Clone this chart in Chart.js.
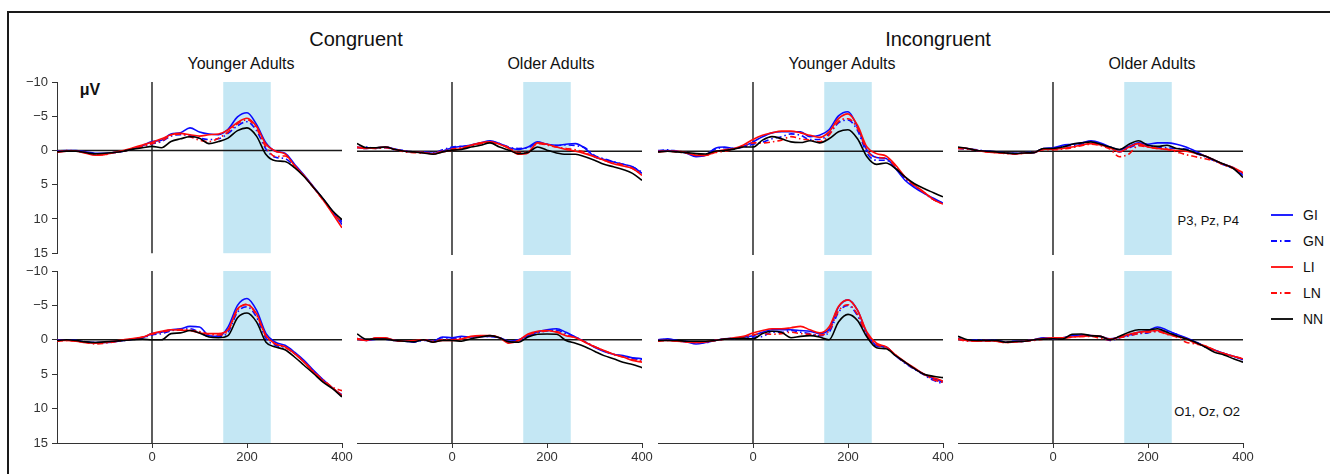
<!DOCTYPE html>
<html>
<head>
<meta charset="utf-8">
<script src="https://cdn.jsdelivr.net/npm/chart.js@4.4.1/dist/chart.umd.min.js"></script>
<style>
  html, body { margin: 0; padding: 0; background: #fff; width: 1330px; height: 474px; overflow: hidden;
               font-family: 'Liberation Sans', Arial, sans-serif; }
  #frame { position: absolute; left: 7px; top: 11px; width: 1340px; height: 520px;
           border: 2px solid #1a1a1a; box-sizing: border-box; }
  .lbl { position: absolute; transform: translate(-50%, -50%); line-height: 1; white-space: nowrap; color: #111; }
  .title { font-size: 20px; }
  .sub { font-size: 16px; }
  .bold { font-size: 16px; font-weight: bold; }
  .site { position: absolute; font-size: 13px; line-height: 1; transform: translate(-100%, -50%); color: #111; white-space: nowrap; }
  canvas { position: absolute; }
  .leg { position: absolute; display: flex; align-items: center; transform: translateY(-50%); font-size: 14px; color: #111; }
  .leg svg { margin-right: 10px; }
</style>
</head>
<body>
<div id="frame"></div>

<div class="lbl title" style="left:356px; top:39px;">Congruent</div>
<div class="lbl title" style="left:938px; top:39px;">Incongruent</div>
<div class="lbl sub" style="left:241px; top:64px;">Younger Adults</div>
<div class="lbl sub" style="left:551px; top:64px;">Older Adults</div>
<div class="lbl sub" style="left:842px; top:64px;">Younger Adults</div>
<div class="lbl sub" style="left:1152px; top:64px;">Older Adults</div>
<div class="lbl bold" style="left:90px; top:90px;">μV</div>
<div class="lbl bold" style="left:246px; top:90px;">N1</div>
<div class="site" style="left:1239px; top:220px;">P3, Pz, P4</div>
<div class="site" style="left:1240px; top:411px;">O1, Oz, O2</div>

<div id="legend"></div>

<script>
// --- DATOS ---
const TIMES = [-200, -180, -160, -140, -120, -100, -80, -60, -40, -20, 0, 20, 40, 60, 80, 100,
               120, 140, 160, 180, 200, 220, 240, 260, 280, 300, 320, 340, 360, 380, 400];
const SERIES = ['GI', 'GN', 'LI', 'LN', 'NN'];
const X_TICKS = [0, 200, 400];
const Y_TICKS = [-10, -5, 0, 5, 10, 15];
const N1_WINDOW = [150, 250];

// Congruent, younger, P3/Pz/P4
const congYoungPar = {
  GI: [0.1, 0.0, 0.0, 0.2, 0.4, 0.4, 0.3, 0.1, -0.3, -0.7, -1.3, -1.5, -2.4, -2.6, -3.3, -2.7, -2.4, -2.3, -3.1, -4.9, -5.5, -3.8, -1.1, 0.1, 0.4, 2.0, 3.6, 5.3, 7.1, 8.9, 10.8],
  GN: [0.2, 0.1, 0.1, 0.3, 0.5, 0.5, 0.3, 0.1, -0.2, -0.5, -1.0, -1.3, -2.1, -2.3, -2.2, -1.8, -1.6, -1.7, -2.5, -3.6, -4.2, -2.9, -0.2, 1.0, 1.2, 2.3, 3.7, 5.4, 7.1, 8.9, 10.4],
  LI: [0.3, 0.1, 0.1, 0.4, 0.7, 0.6, 0.3, 0.0, -0.4, -0.8, -1.2, -1.7, -2.3, -2.5, -2.3, -2.1, -2.3, -2.4, -3.0, -4.1, -4.7, -3.5, -0.9, 0.1, 0.5, 2.2, 3.7, 5.4, 7.2, 9.2, 11.3],
  LN: [0.2, 0.0, 0.1, 0.3, 0.6, 0.6, 0.3, 0.1, -0.3, -0.6, -1.0, -1.4, -2.2, -2.4, -2.0, -1.5, -1.3, -1.8, -2.7, -3.9, -4.5, -3.2, -0.5, 0.9, 0.8, 2.2, 3.7, 5.4, 7.2, 9.0, 10.5],
  NN: [0.2, 0.1, 0.1, 0.3, 0.5, 0.4, 0.3, 0.1, -0.2, -0.4, -0.6, -0.4, -1.3, -1.7, -2.0, -1.8, -1.0, -1.3, -1.8, -2.9, -3.3, -2.1, 0.6, 1.5, 1.6, 2.5, 3.8, 5.4, 7.0, 8.8, 10.1]
};
// Congruent, older, P3/Pz/P4
const congOldPar = {
  GI: [-0.6, -0.4, -0.5, -0.6, -0.3, 0.0, 0.1, 0.2, 0.3, 0.0, -0.5, -0.7, -0.9, -1.2, -1.5, -1.1, -0.5, -0.25, -0.6, -1.35, -1.0, -0.85, -1.0, -1.1, -0.4, 0.8, 1.2, 1.55, 1.9, 2.25, 3.2],
  GN: [-0.5, -0.6, -0.4, -0.5, -0.2, -0.1, 0.1, 0.1, 0.2, -0.2, -0.6, -0.7, -0.8, -1.1, -1.4, -1.1, -0.6, -0.4, -0.5, -1.2, -1.0, -0.8, -0.9, -0.8, -0.5, 0.6, 1.1, 1.5, 1.9, 2.3, 3.0],
  LI: [-0.6, -0.4, -0.5, -0.6, -0.25, 0.0, 0.1, 0.2, 0.4, 0.1, -0.15, -0.4, -0.85, -1.2, -1.35, -1.0, -0.4, 0.45, 0.25, -1.2, -1.0, -0.6, -0.25, 0.0, 0.35, 0.8, 1.3, 1.8, 2.15, 2.5, 3.5],
  LN: [-0.5, -0.5, -0.4, -0.5, -0.3, 0.1, 0.2, 0.3, 0.3, 0.0, -0.3, -0.5, -0.8, -1.1, -1.3, -1.0, -0.5, 0.2, 0.1, -1.1, -0.9, -0.6, -0.4, -0.2, 0.2, 0.8, 1.3, 1.7, 2.0, 2.5, 3.3],
  NN: [-1.1, -0.5, -0.5, -0.6, -0.25, 0.0, 0.1, 0.25, 0.45, 0.1, -0.15, -0.25, -0.6, -0.85, -1.2, -0.6, -0.15, 0.35, 0.2, -0.6, -0.15, 0.25, 0.45, 0.45, 0.8, 1.3, 1.9, 2.25, 2.65, 3.2, 4.2]
};
// Incongruent, younger, P3/Pz/P4
const incYoungPar = {
  GI: [-0.1, -0.1, 0.0, 0.3, 0.8, 0.6, -0.4, -0.6, -0.4, -0.7, -1.35, -2.1, -2.65, -2.8, -2.8, -2.8, -2.1, -2.3, -3.1, -5.1, -5.7, -3.5, -0.15, 0.9, 1.05, 2.5, 4.2, 5.25, 6.1, 6.8, 7.5],
  GN: [0.0, -0.2, 0.0, 0.2, 0.6, 0.5, -0.3, -0.5, -0.4, -0.6, -1.0, -1.3, -1.8, -2.1, -2.5, -2.3, -1.7, -1.7, -2.5, -4.1, -4.5, -3.0, 0.3, 1.3, 1.3, 2.4, 4.0, 5.1, 6.0, 7.0, 7.5],
  LI: [0.1, 0.0, 0.0, 0.2, 0.6, 0.6, 0.1, -0.2, -0.4, -0.9, -1.7, -2.3, -2.65, -2.9, -2.9, -2.65, -2.3, -2.0, -2.8, -4.7, -5.4, -3.75, -0.6, 0.35, 0.7, 2.0, 3.7, 4.9, 5.9, 7.0, 7.65],
  LN: [0.0, 0.0, 0.1, 0.3, 0.5, 0.6, 0.2, 0.0, -0.3, -0.7, -1.2, -1.2, -1.35, -1.6, -2.1, -1.8, -1.6, -1.35, -2.3, -4.3, -4.7, -3.3, -0.1, 0.9, 1.0, 2.2, 3.8, 5.0, 6.0, 7.0, 7.6],
  NN: [0.1, 0.0, 0.1, 0.2, 0.35, 0.4, 0.0, -0.1, -0.3, -0.6, -0.6, -1.6, -2.1, -1.8, -1.35, -1.25, -1.5, -1.2, -1.8, -2.8, -3.1, -1.8, 0.8, 1.9, 1.7, 2.5, 3.7, 4.7, 5.4, 6.0, 6.6]
};
// Incongruent, older, P3/Pz/P4
const incOldPar = {
  GI: [-0.5, -0.4, -0.1, 0.0, 0.1, 0.25, 0.35, 0.25, 0.2, -0.4, -0.5, -0.85, -1.0, -1.2, -1.5, -1.2, -0.6, -0.2, -0.7, -1.2, -1.0, -1.2, -1.2, -1.0, -0.6, 0.0, 0.7, 1.3, 1.9, 2.4, 3.5],
  GN: [-0.4, -0.3, -0.2, 0.0, 0.1, 0.3, 0.3, 0.2, 0.1, -0.3, -0.4, -0.7, -0.8, -1.0, -1.3, -1.0, -0.5, 0.1, -0.5, -0.9, -0.8, -0.6, -0.5, -0.4, -0.3, 0.3, 0.8, 1.4, 2.0, 2.5, 3.3],
  LI: [-0.5, -0.4, -0.1, 0.1, 0.2, 0.3, 0.4, 0.3, 0.2, -0.3, -0.3, -0.4, -0.6, -0.9, -1.1, -0.9, -0.5, 0.1, -0.6, -1.1, -0.6, -0.4, -0.25, -0.1, 0.0, 0.3, 0.7, 1.3, 1.9, 2.4, 3.1],
  LN: [-0.4, -0.3, -0.1, 0.1, 0.2, 0.35, 0.4, 0.3, 0.2, -0.2, -0.2, -0.3, -0.5, -0.8, -1.0, -0.8, -0.3, 0.8, 0.4, -0.8, -0.6, -0.4, -0.3, 0.1, 0.5, 0.8, 1.1, 1.4, 2.0, 2.5, 3.2],
  NN: [-0.6, -0.4, -0.1, 0.0, 0.1, 0.25, 0.35, 0.25, 0.2, -0.4, -0.4, -0.6, -1.0, -1.2, -1.35, -1.0, -0.6, -0.25, -1.0, -1.5, -0.85, -0.7, -0.85, -0.4, -0.2, 0.25, 0.7, 1.3, 1.9, 2.5, 3.8]
};
// Congruent, younger, O1/Oz/O2
const congYoungOcc = {
  GI: [0.0, 0.0, 0.1, 0.3, 0.4, 0.4, 0.3, 0.1, -0.1, -0.3, -0.9, -1.1, -1.45, -1.6, -1.95, -1.85, -0.6, -0.5, -1.85, -5.0, -6.0, -4.3, -0.9, 0.35, 0.8, 1.8, 3.0, 4.45, 5.8, 7.0, 8.2],
  GN: [0.1, 0.0, 0.1, 0.3, 0.4, 0.4, 0.2, 0.1, -0.1, -0.3, -0.7, -0.9, -1.3, -1.5, -1.6, -1.1, -0.5, -0.5, -1.1, -4.0, -4.8, -3.3, -0.2, 0.8, 1.1, 2.0, 3.2, 4.6, 5.9, 7.0, 8.0],
  LI: [0.1, 0.1, 0.2, 0.4, 0.5, 0.4, 0.2, 0.0, -0.2, -0.4, -0.9, -1.25, -1.45, -1.4, -1.35, -1.0, -0.9, -0.9, -1.45, -4.5, -5.1, -3.8, -0.6, 0.6, 1.0, 2.0, 3.25, 4.7, 6.0, 7.0, 8.1],
  LN: [0.2, 0.1, 0.2, 0.4, 0.6, 0.5, 0.3, 0.1, -0.1, -0.4, -0.8, -1.1, -1.4, -1.5, -1.4, -1.2, -0.8, -0.7, -1.3, -4.3, -5.2, -3.6, -0.5, 0.6, 1.1, 2.0, 3.2, 4.6, 5.8, 6.9, 7.4],
  NN: [0.1, 0.0, 0.1, 0.3, 0.4, 0.3, 0.2, 0.1, 0.0, -0.1, 0.0, 0.0, -0.9, -1.0, -1.35, -1.0, -0.4, -0.3, -0.6, -3.2, -3.9, -2.6, 0.35, 1.05, 1.45, 2.5, 3.7, 4.9, 6.15, 7.1, 8.3]
};
// Congruent, older, O1/Oz/O2
const congOldOcc = {
  GI: [-0.1, 0.1, -0.1, -0.2, 0.1, 0.2, 0.3, 0.0, 0.2, -0.4, -0.3, -0.5, -0.4, -0.5, -0.5, -0.3, 0.2, 0.0, -0.6, -1.15, -1.45, -1.6, -1.1, -0.4, 0.3, 1.1, 1.7, 2.1, 2.3, 2.6, 2.75],
  GN: [-0.2, 0.0, -0.2, -0.1, 0.1, 0.2, 0.3, 0.1, 0.1, -0.3, -0.2, -0.3, -0.4, -0.5, -0.5, -0.3, 0.2, 0.1, -0.5, -1.0, -1.3, -1.4, -0.9, -0.4, 0.3, 1.0, 1.6, 2.1, 2.4, 2.7, 2.9],
  LI: [-0.1, 0.1, -0.3, -0.3, 0.1, 0.2, 0.1, 0.0, 0.3, 0.1, 0.1, -0.1, -0.5, -0.6, -0.6, -0.3, 0.5, 0.1, -0.85, -1.25, -1.35, -1.1, -0.6, -0.3, 0.35, 1.0, 1.55, 2.1, 2.5, 3.0, 3.25],
  LN: [-0.2, 0.1, -0.2, -0.2, 0.1, 0.2, 0.2, 0.0, 0.2, 0.0, 0.0, -0.2, -0.4, -0.5, -0.6, -0.3, 0.3, 0.1, -0.7, -1.1, -1.3, -1.2, -0.7, -0.3, 0.3, 1.0, 1.6, 2.1, 2.5, 2.9, 3.1],
  NN: [-0.85, -0.1, -0.1, -0.1, 0.1, 0.2, 0.3, 0.0, 0.35, 0.1, 0.1, 0.2, -0.15, -0.4, -0.6, -0.3, 0.3, 0.35, -0.4, -0.8, -0.85, -0.8, 0.1, 0.5, 1.0, 1.65, 2.3, 2.75, 3.25, 3.6, 4.05]
};
// Incongruent, younger, O1/Oz/O2
const incYoungOcc = {
  GI: [0.0, -0.15, 0.1, 0.3, 0.6, 0.4, 0.1, -0.15, -0.2, -0.4, -0.6, -1.1, -1.45, -1.45, -1.45, -1.35, -1.25, -0.9, -1.5, -4.75, -5.8, -4.3, -0.9, 0.8, 1.05, 2.3, 3.3, 4.2, 5.0, 5.65, 6.15],
  GN: [0.1, -0.1, 0.1, 0.2, 0.4, 0.4, 0.1, -0.1, -0.2, -0.3, -0.4, -0.5, -1.1, -1.1, -1.35, -1.1, -0.9, -0.6, -1.1, -4.0, -5.0, -3.5, -0.6, 0.9, 1.1, 2.3, 3.4, 4.3, 5.1, 5.9, 6.4],
  LI: [0.1, 0.1, 0.2, 0.3, 0.4, 0.3, 0.1, -0.1, -0.3, -0.5, -1.0, -1.35, -1.6, -1.6, -1.75, -1.95, -1.45, -1.0, -1.85, -4.85, -5.8, -4.3, -1.1, 0.5, 1.0, 2.2, 3.2, 4.1, 5.0, 5.5, 6.0],
  LN: [0.2, 0.1, 0.2, 0.3, 0.4, 0.3, 0.1, -0.1, -0.2, -0.4, -0.7, -0.9, -0.8, -0.9, -1.1, -0.9, -0.8, -0.7, -1.3, -4.2, -5.1, -3.7, -0.7, 0.7, 1.1, 2.2, 3.3, 4.2, 5.0, 5.8, 6.2],
  NN: [0.1, 0.1, 0.1, 0.2, 0.2, 0.2, 0.1, -0.1, -0.15, -0.2, -0.15, -0.9, -1.25, -1.1, -0.3, -0.5, -0.6, -0.4, 0.0, -2.6, -3.7, -2.8, -0.4, 1.15, 1.3, 2.3, 3.25, 4.2, 5.0, 5.3, 5.5]
};
// Incongruent, older, O1/Oz/O2
const incOldOcc = {
  GI: [-0.2, 0.1, 0.1, 0.1, 0.1, 0.35, 0.25, 0.2, 0.0, -0.3, -0.2, -0.3, -0.6, -0.7, -0.6, -0.5, -0.15, -0.4, -0.7, -1.1, -1.35, -1.85, -1.4, -0.8, -0.3, 0.3, 1.0, 1.5, 2.0, 2.4, 2.9],
  GN: [-0.1, 0.1, 0.0, 0.1, 0.1, 0.3, 0.2, 0.2, 0.0, -0.2, -0.1, -0.3, -0.5, -0.6, -0.6, -0.4, 0.1, -0.3, -0.6, -0.9, -1.0, -1.3, -1.2, -0.8, -0.2, 0.3, 1.0, 1.5, 2.0, 2.4, 2.8],
  LI: [-0.1, 0.1, 0.2, 0.1, 0.2, 0.4, 0.3, 0.2, 0.0, -0.2, -0.3, -0.3, -0.4, -0.5, -0.6, -0.5, -0.1, -0.4, -0.8, -1.1, -1.25, -1.35, -0.85, -0.5, -0.15, 0.5, 0.85, 1.5, 2.0, 2.4, 2.75],
  LN: [-0.1, 0.2, 0.2, 0.2, 0.2, 0.4, 0.3, 0.2, 0.1, -0.1, -0.2, -0.2, -0.4, -0.5, -0.5, -0.2, 0.0, -0.3, -0.6, -0.9, -1.1, -1.2, -0.8, -0.4, 0.35, 0.6, 0.9, 1.5, 2.0, 2.4, 2.7],
  NN: [-0.5, 0.0, 0.1, 0.1, 0.1, 0.35, 0.25, 0.2, 0.0, -0.1, -0.15, -0.1, -0.8, -0.85, -0.6, -0.5, 0.0, -0.5, -1.1, -1.45, -1.45, -1.6, -1.1, -0.6, -0.15, 0.35, 1.05, 1.8, 2.2, 2.75, 3.25]
};

// --- ESTILOS ---
const COLORS = ['#0a0aff', '#0a0aff', '#ff0a0a', '#ff0a0a', '#000000'];
const DASHES = [[], [6, 3, 1.5, 3], [], [6, 3, 1.5, 3], []];
const SHADE = '#c4e7f4';
const FONT = { family: "'Liberation Sans', Arial, sans-serif", size: 13 };

// posición de cada panel (área de trazado)
const COL_LEFT = [57, 357, 658, 958];
const ROW_TOP = [82, 271];
const ROW_H = [173, 172];
const AREA_W = 285;

const PANELS = [
  { data: congYoungPar, col: 0, row: 0 },
  { data: congOldPar,   col: 1, row: 0 },
  { data: incYoungPar,  col: 2, row: 0 },
  { data: incOldPar,    col: 3, row: 0 },
  { data: congYoungOcc, col: 0, row: 1 },
  { data: congOldOcc,   col: 1, row: 1 },
  { data: incYoungOcc,  col: 2, row: 1 },
  { data: incOldOcc,    col: 3, row: 1 }
];

// sombreado N1 debajo de los ejes, líneas de cero encima
const decor = {
  id: 'decor',
  beforeDraw(chart) {
    const { ctx, chartArea: a, scales: { x } } = chart;
    const x0 = x.getPixelForValue(N1_WINDOW[0]);
    const x1 = x.getPixelForValue(N1_WINDOW[1]);
    ctx.save();
    ctx.fillStyle = SHADE;
    ctx.fillRect(x0, a.top, x1 - x0, a.bottom - a.top);
    ctx.restore();
  },
  beforeDatasetsDraw(chart) {
    const { ctx, chartArea: a, scales: { x, y } } = chart;
    const yz = y.getPixelForValue(0);
    const xz = x.getPixelForValue(0);
    ctx.save();
    ctx.strokeStyle = '#1a1a1a';
    ctx.lineWidth = 1.4;
    ctx.beginPath();
    ctx.moveTo(a.left, yz); ctx.lineTo(a.right, yz);
    ctx.moveTo(xz, a.top); ctx.lineTo(xz, a.bottom);
    ctx.stroke();
    ctx.restore();
  }
};

function crearPanel(p) {
  const showY = p.col === 0;
  const showX = p.row === 1;
  const padL = showY ? 0 : 4;
  const canvasLeft = showY ? 0 : COL_LEFT[p.col] - padL;
  const yW = COL_LEFT[0];
  const padB = showX ? 2 : 10;
  const xH = 26;
  const w = (COL_LEFT[p.col] - canvasLeft) + AREA_W + 16;
  const h = 12 + ROW_H[p.row] + (showX ? xH : 0) + padB;

  const canvas = document.createElement('canvas');
  canvas.width = w; canvas.height = h;
  canvas.style.left = canvasLeft + 'px';
  canvas.style.top = (ROW_TOP[p.row] - 12) + 'px';
  canvas.style.width = w + 'px'; canvas.style.height = h + 'px';
  document.body.appendChild(canvas);

  new Chart(canvas, {
    type: 'line',
    data: {
      datasets: SERIES.map((name, i) => ({
        label: name,
        data: TIMES.map((t, k) => ({ x: t, y: p.data[name][k] })),
        borderColor: COLORS[i],
        borderDash: DASHES[i],
        borderWidth: 1.6,
        pointRadius: 0,
        fill: false,
        cubicInterpolationMode: 'monotone',
        order: SERIES.length - i
      }))
    },
    options: {
      responsive: false,
      animation: false,
      events: [],
      layout: { padding: { left: padL, right: 16, top: 12, bottom: padB } },
      plugins: { legend: { display: false }, tooltip: { enabled: false } },
      scales: {
        x: {
          type: 'linear', min: -200, max: 400, display: showX,
          afterBuildTicks: s => { s.ticks = X_TICKS.map(v => ({ value: v })); },
          afterFit: s => { if (showX) s.height = xH; },
          grid: { drawOnChartArea: false, drawTicks: true, tickLength: 5, color: '#333', lineWidth: 1 },
          border: { display: true, color: '#333', width: 1 },
          ticks: { font: FONT, color: '#333', padding: 2, maxRotation: 0, autoSkip: false }
        },
        y: {
          type: 'linear', min: -10, max: 15, reverse: true, display: showY,
          afterBuildTicks: s => { s.ticks = Y_TICKS.map(v => ({ value: v })); },
          afterFit: s => { if (showY) s.width = yW; },
          grid: { drawOnChartArea: false, drawTicks: true, tickLength: 5, color: '#333', lineWidth: 1 },
          border: { display: true, color: '#333', width: 1 },
          ticks: { font: FONT, color: '#333', padding: 4, autoSkip: false,
                   callback: v => v < 0 ? '\u2212' + Math.abs(v) : String(v) }
        }
      }
    },
    plugins: [decor]
  });
}

PANELS.forEach(crearPanel);

// --- LEYENDA ---
const legend = document.getElementById('legend');
SERIES.forEach((name, i) => {
  const row = document.createElement('div');
  row.className = 'leg';
  row.style.left = '1271px';
  row.style.top = (215 + 26 * i) + 'px';
  const dash = DASHES[i].length ? DASHES[i].join(',') : 'none';
  row.innerHTML = '<svg width="22" height="6"><line x1="0" y1="3" x2="22" y2="3" stroke="' + COLORS[i] +
                  '" stroke-width="1.8" stroke-dasharray="' + dash + '"/></svg><span>' + name + '</span>';
  legend.appendChild(row);
});
</script>
</body>
</html>
